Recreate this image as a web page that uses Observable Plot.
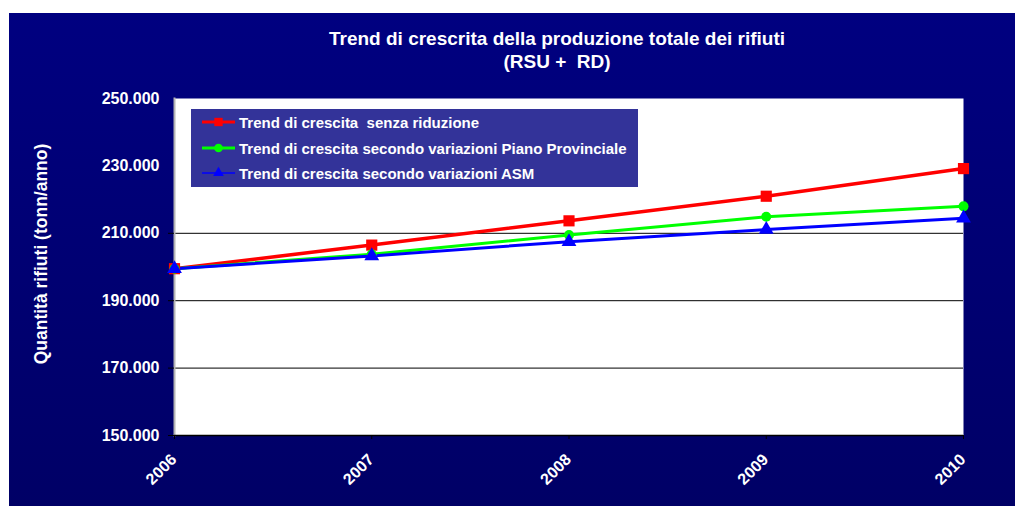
<!DOCTYPE html>
<html>
<head>
<meta charset="utf-8">
<script src="https://cdn.jsdelivr.net/npm/d3@7"></script>
<script src="https://cdn.jsdelivr.net/npm/@observablehq/plot@0.6"></script>
<style>
  html, body { margin: 0; padding: 0; background: #ffffff; }
  body { width: 1015px; height: 506px; position: relative; overflow: hidden;
         font-family: Arial, "Liberation Sans", sans-serif; }
  #bg { position: absolute; left: 9px; top: 13px; width: 1006px; height: 493px;
        background: linear-gradient(#000080, #000066); }
  #chart { position: absolute; left: 0; top: 0; }
  .title { position: absolute; left: 557px; transform: translateX(-50%); white-space: nowrap;
           color: #ffffff; font-size: 19px; font-weight: bold; }
  #ylabel { position: absolute; left: 41px; top: 254px; transform: translate(-50%, -50%) rotate(-90deg);
            white-space: nowrap; color: #ffffff; font-weight: bold; font-size: 17.5px; }
  #legend { position: absolute; left: 191px; top: 109px; width: 447px; height: 78px; background: #333399; }
  .lrow { position: absolute; left: 11px; height: 18px; display: flex; align-items: center;
          color: #ffffff; font-weight: bold; font-size: 15px; white-space: nowrap; }
  .lrow svg { margin-right: 4px; }
</style>
</head>
<body>
<div id="bg"></div>
<div class="title" style="top:28px">Trend di crescrita della produzione totale dei rifiuti</div>
<div class="title" style="top:51px">(RSU +&nbsp; RD)</div>
<div id="ylabel">Quantità rifiuti (tonn/anno)</div>
<div id="chart"></div>
<div id="legend"></div>
<script>
// ---- data ----
const years = [2006, 2007, 2008, 2009, 2010];
const seriesNames = [
  "Trend di crescita  senza riduzione",
  "Trend di crescita secondo variazioni Piano Provinciale",
  "Trend di crescita secondo variazioni ASM"
];
const senzaRiduzione   = [199500, 206500, 213700, 221000, 229200];
const pianoProvinciale = [199500, 203800, 209500, 214900, 218000];
const variazioniASM    = [199500, 203300, 207500, 211100, 214500];
const yTickValues = [150000, 170000, 190000, 210000, 230000, 250000];
const yTickMarks  = [150000, 170000, 190000, 210000];
const gridValues  = [170000, 190000, 210000];

const seriesColors  = ["#ff0000", "#00ff00", "#0000ff"];
const seriesSymbols = ["square", "circle", "triangle"];

const toRows = (vals) => years.map((y, i) => ({year: y, value: vals[i]}));
const rows = [toRows(senzaRiduzione), toRows(pianoProvinciale), toRows(variazioniASM)];

const fmt = (v) => d3.format(",")(v).replace(/,/g, ".");

const lineWidths = [3.5, 3, 3];
const dotR = [6.3, 5, 5.5];

const seriesMarks = rows.map((r, k) =>
  Plot.line(r, {x: "year", y: "value", stroke: seriesColors[k], strokeWidth: lineWidths[k]})
).concat(rows.map((r, k) =>
  Plot.dot(r, {x: "year", y: "value", symbol: seriesSymbols[k], fill: seriesColors[k], stroke: "none", r: dotR[k]})
));

const chart = Plot.plot({
  width: 1015,
  height: 506,
  marginLeft: 174,
  marginRight: 52,
  marginTop: 98,
  marginBottom: 71,
  style: {background: "transparent", color: "white", fontFamily: "Arial, 'Liberation Sans', sans-serif"},
  x: {type: "linear", domain: [2006, 2010]},
  y: {type: "linear", domain: [150000, 250000]},
  marks: [
    Plot.frame({fill: "white", stroke: null}),
    Plot.ruleY(gridValues, {stroke: "black", strokeWidth: 1}),
    Plot.frame({anchor: "left", stroke: "#b4b4b4", strokeWidth: 2}),
    Plot.axisY({ticks: yTickMarks, tickSize: 6, tickFormat: () => "", label: null, stroke: "black"}),
    Plot.axisY({ticks: yTickValues, tickSize: 0, tickPadding: 15, tickFormat: fmt, label: null,
                fill: "white", fontSize: 16, fontWeight: "bold"}),
    Plot.axisX({ticks: years, tickSize: 4, tickFormat: () => "", label: null, stroke: "black"}),
    Plot.ruleY([150000], {stroke: "black", strokeWidth: 1.5}),
    Plot.text(years, {x: d => d, text: d => String(d), frameAnchor: "bottom", rotate: -45,
                      textAnchor: "end", lineAnchor: "top", dx: -5, dy: 17,
                      fill: "white", fontSize: 16, fontWeight: "bold"}),
    ...seriesMarks
  ]
});
document.getElementById("chart").appendChild(chart);

// ---- legend ----
const legend = document.getElementById("legend");
const symPaths = {
  square: d3.symbol(d3.symbolSquare, 70)(),
  circle: d3.symbol(d3.symbolCircle, 60)(),
  triangle: d3.symbol(d3.symbolTriangle, 50)()
};
const rowTops = [4, 30, 55];
seriesNames.forEach((name, k) => {
  const row = document.createElement("div");
  row.className = "lrow";
  row.style.top = rowTops[k] + "px";
  row.innerHTML =
    `<svg width="33" height="16"><line x1="0" x2="33" y1="8" y2="8" stroke="${seriesColors[k]}" stroke-width="${k === 2 ? 1.5 : 3}"/>` +
    `<path transform="translate(16.5,8)" d="${symPaths[seriesSymbols[k]]}" fill="${seriesColors[k]}"/></svg>` +
    `<span>${name.replace(/  /g, " &nbsp;")}</span>`;
  legend.appendChild(row);
});
</script>
</body>
</html>
